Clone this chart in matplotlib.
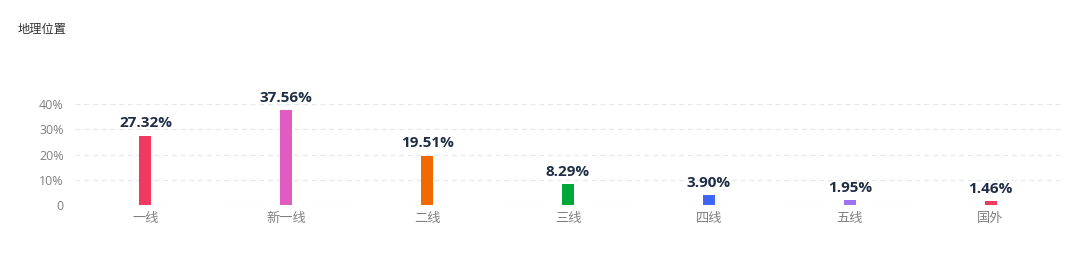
import matplotlib
matplotlib.use("Agg")
import matplotlib.pyplot as plt

plt.rcParams['font.family'] = ['Noto Sans CJK SC', 'DejaVu Sans']

# data
categories = ['一线', '新一线', '二线', '三线', '四线', '五线', '国外']
shares = [27.32, 37.56, 19.51, 8.29, 3.90, 1.95, 1.46]
bar_colors = ['#f03a61', '#e05cc0', '#f06a00', '#00a83a', '#4065f5', '#a070f5', '#f03a61']
y_ticks = [0, 10, 20, 30, 40]
y_labels = ['0', '10%', '20%', '30%', '40%']

fig = plt.figure(figsize=(10.8, 2.74), dpi=100)
fig.patch.set_facecolor('white')

ax = fig.add_axes([75 / 1080, 69 / 274, 986 / 1080, 101 / 274])
ax.set_facecolor('white')

x = list(range(len(categories)))
bars = ax.bar(x, shares, width=0.086, color=bar_colors, zorder=3)

# value labels on top of bars
for xi, v in zip(x, shares):
    ax.annotate(f'{v:.2f}%', xy=(xi, v), xytext=(0, 4), textcoords='offset points',
                ha='center', va='bottom', fontsize=11, fontweight='bold',
                family=['Open Sans', 'DejaVu Sans'],
                color='#1f2d45', annotation_clip=False)

ax.set_xlim(-0.5, len(categories) - 0.5)
ax.set_ylim(0, 40)
ax.set_yticks(y_ticks)
ax.set_yticklabels(y_labels, family=['Open Sans', 'DejaVu Sans'])
ax.set_xticks(x)
ax.set_xticklabels(categories)

for yv in y_ticks:
    ax.axhline(yv, color='#e6e8ec', linewidth=0.9, linestyle=(0, (4, 3)), zorder=1)

for s in ax.spines.values():
    s.set_visible(False)
ax.tick_params(axis='both', length=0, colors='#808080')
ax.tick_params(axis='y', pad=8, labelsize=9)
ax.tick_params(axis='x', pad=5, labelsize=9.5)

fig.text(18 / 1080, 1 - 30 / 274, '地理位置', fontsize=8.8, color='#333333',
         ha='left', va='center')

fig.savefig('out.png', dpi=100, facecolor=fig.get_facecolor())
